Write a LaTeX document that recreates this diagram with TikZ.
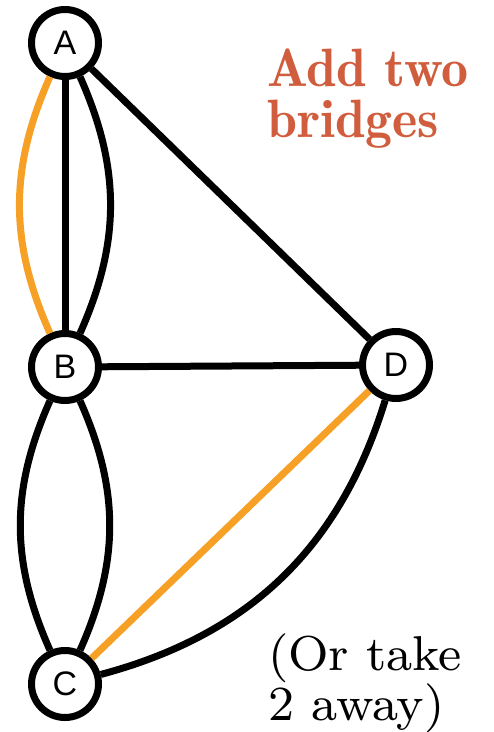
\documentclass[tikz,border=0pt]{standalone}
\usepackage{fontspec}
\newfontfamily\nodefont{Liberation Sans}
\newfontfamily\demifont{lmromandemi10-regular.otf}
\newfontfamily\notefont{lmroman8-regular.otf}
\definecolor{edgeorange}{HTML}{F7A026}
\definecolor{titlered}{HTML}{D05E3E}
\begin{document}
\begin{tikzpicture}[x=1pt,y=-1pt,
  vertex/.style={circle,draw=black,fill=white,line width=7pt,minimum size=67pt,inner sep=0pt,font=\nodefont\fontsize{34}{40}\selectfont},
  link/.style={line width=7pt,black},
  olink/.style={line width=7pt,edgeorange},
  title/.style={anchor=base west,inner sep=0pt,text=titlered,font=\demifont\fontsize{54}{58}\selectfont},
  note/.style={anchor=base west,inner sep=0pt,font=\notefont\fontsize{49}{52}\selectfont}]
\useasboundingbox (0,0) rectangle (494,732);
\node[vertex] (A) at (65,43) {A};
\node[vertex] (B) at (65,367) {B};
\node[vertex] (D) at (396,365) {D};
\node[vertex] (C) at (65,684) {C};
\draw[olink] (A) to[bend right=24] (B);
\draw[link] (A) -- (B);
\draw[link] (A) to[bend left=24] (B);
\draw[link] (A) -- (D);
\draw[link] (B) -- (D);
\draw[link] (B) to[bend right=24] (C);
\draw[link] (B) to[bend left=24] (C);
\draw[olink] (C) -- (D);
\draw[link] (C) to[bend right=29] (D);
\node[title] (t1) at (267,86) {Add two};
\node[title] (t2) at (267,137) {bridges};
\node[note] (n1) at (268,670) {(Or take};
\node[note] (n2) at (268,720) {2 away)};
\end{tikzpicture}
\end{document}
